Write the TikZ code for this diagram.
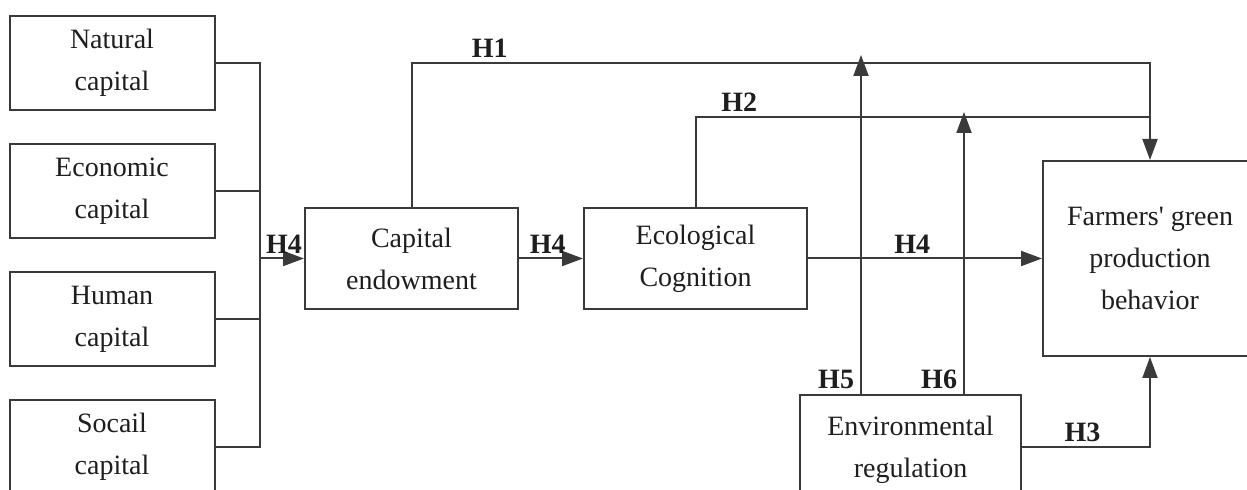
\documentclass[tikz,border=0pt]{standalone}
\usepackage{fontspec}
\setmainfont{Liberation Serif}[Ligatures=TeXOff]
\usepackage{tikz}
\usetikzlibrary{positioning,arrows.meta,calc}
\definecolor{linegrey}{HTML}{3A3A3A}
\definecolor{textgrey}{HTML}{1E1E1E}
\tikzset{
  box/.style    = {draw=linegrey, line width=1pt, align=center, text=textgrey,
                   font=\fontsize{14}{21}\selectfont, inner sep=0pt},
  capbox/.style = {box, minimum width=102.5pt, minimum height=47pt},
  conn/.style   = {draw=linegrey, line width=1pt},
  arr/.style    = {conn, -{Triangle[length=10.5pt, width=7.5pt]}},
  hlab/.style   = {font=\fontsize{14}{16}\selectfont\bfseries, text=textgrey, inner sep=2pt},
}

\begin{document}
\begin{tikzpicture}[x=0.5pt, y=-0.5pt]
  \clip (0,0) rectangle (1247,490);
  \node[capbox] (natural)  at (112,63)  {Natural\\capital};
  \node[capbox] (economic) at (112,191) {Economic\\capital};
  \node[capbox] (human)    at (112,319) {Human\\capital};
  \node[capbox] (social)   at (112,447) {Socail\\capital};
  \node[box, minimum width=106.5pt, minimum height=50.5pt]
        (endow) at (411.5,258.5) {Capital\\endowment};
  \node[box, minimum width=111.5pt, minimum height=50.5pt]
        (cognition) at (695.5,258.5) {Ecological\\Cognition};
  \node[box, minimum width=107pt, minimum height=97.5pt]
        (behavior) at (1150,258.5) {Farmers' green\\production\\behavior};
  \node[box, minimum width=110.5pt, minimum height=55pt]
        (regulation) at (910.5,450) {Environmental\\regulation};

  \coordinate (bus) at (260,258.5);
  \coordinate (h1) at (behavior.north |- natural.east);
  \coordinate (h2) at (1150,117);
  \path (regulation.north west) ++(62,0) coordinate (h5foot)
        (regulation.north west) ++(165,0) coordinate (h6foot);

  \draw[conn] (natural.east) -- (natural.east -| bus) -- (social.east -| bus) -- (social.east);
  \draw[conn] (economic.east) -- (economic.east -| bus);
  \draw[conn] (human.east) -- (human.east -| bus);
  \draw[arr] (bus) -- node[hlab, above, xshift=1pt]{H4} (endow.west);
  \draw[arr] (endow.east) -- node[hlab, above, pos=0.45]{H4} (cognition.west);
  \draw[arr] (cognition.east) -- node[hlab, above, pos=0.445]{H4} (behavior.west);
  \draw[arr] (endow.north) |- node[hlab, above, pos=0.553]{H1} (h1) -- (behavior.north);
  \draw[conn] (cognition.north) |- node[hlab, above, pos=0.548]{H2} (h2);
  \draw[arr] (h5foot) -- node[hlab, above left, pos=0, xshift=-1pt]{H5} (h5foot |- 0,55);
  \draw[arr] (h6foot) -- node[hlab, above left, pos=0, xshift=-1pt]{H6} (h6foot |- 0,112);
  \draw[arr] (regulation.east |- 0,447) -| node[hlab, above, pos=0.236]{H3} (behavior.south);
\end{tikzpicture}
\end{document}
